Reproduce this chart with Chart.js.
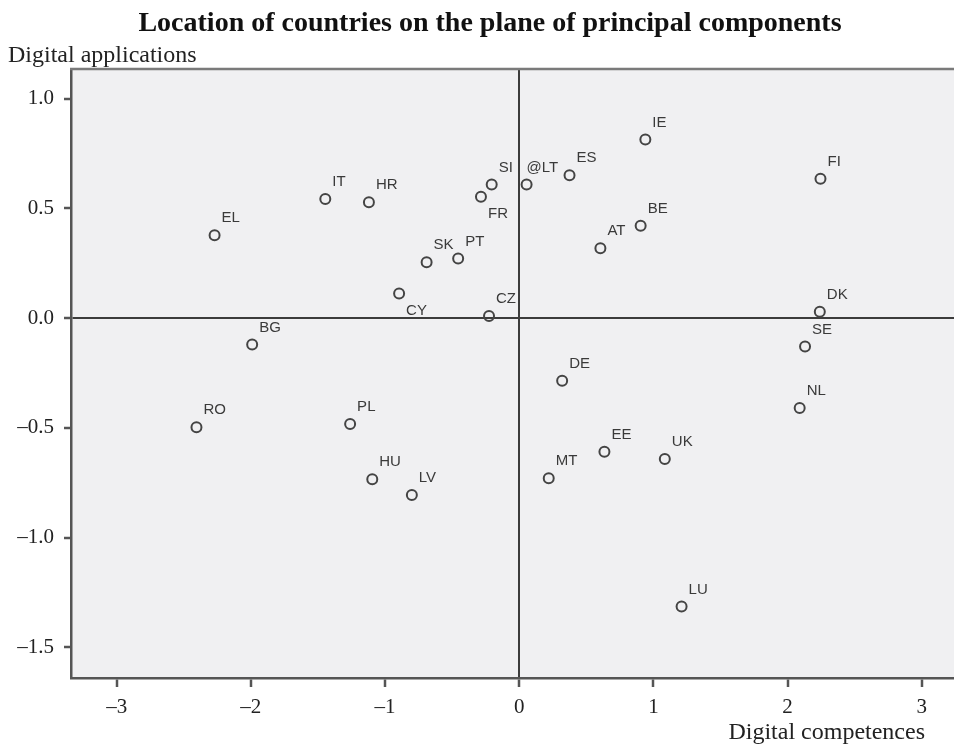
<!DOCTYPE html>
<html>
<head>
<meta charset="utf-8">
<script src="https://cdn.jsdelivr.net/npm/chart.js@4/dist/chart.umd.min.js"></script>
<style>
  html, body { margin: 0; padding: 0; background: #fff; }
  #wrap { width: 954px; height: 746px; }
</style>
</head>
<body>
<div id="wrap"><canvas id="pca" width="954" height="746"></canvas></div>
<script>
// countries and their scores on the two principal components
const countries = ['EL', 'IT', 'HR', 'SI', 'FR', 'SK', 'PT', 'CY', 'CZ', '@LT', 'ES', 'IE', 'FI', 'BE', 'AT', 'DK',
  'BG', 'RO', 'PL', 'HU', 'LV', 'SE', 'DE', 'NL', 'EE', 'UK', 'MT', 'LU'];
const digitalCompetences = [-2.27, -1.445, -1.12, -0.205, -0.285, -0.69, -0.455, -0.895, -0.225, 0.055, 0.375, 0.94, 2.245, 0.905, 0.605, 2.24,
  -1.99, -2.405, -1.26, -1.095, -0.80, 2.13, 0.32, 2.09, 0.635, 1.085, 0.22, 1.21];
const digitalApplications = [0.377, 0.543, 0.528, 0.609, 0.553, 0.254, 0.271, 0.112, 0.009, 0.609, 0.651, 0.814, 0.635, 0.421, 0.318, 0.029,
  -0.12, -0.497, -0.483, -0.734, -0.806, -0.129, -0.286, -0.41, -0.609, -0.642, -0.73, -1.314];

const xTitle = 'Digital competences';
const yTitle = 'Digital applications';
const chartTitle = 'Location of countries on the plane of principal components';

const points = countries.map((c, i) => ({ x: digitalCompetences[i], y: digitalApplications[i] }));

const dash = v => String(v).replace('-', '\u2013');

// plot background + top frame line
const plotFrame = {
  id: 'plotFrame',
  beforeDraw(chart) {
    const { ctx, chartArea: a } = chart;
    ctx.save();
    ctx.fillStyle = '#f0f0f2';
    ctx.fillRect(a.left, a.top, a.right - a.left, a.bottom - a.top);
    ctx.restore();
  },
  afterDraw(chart) {
    const { ctx, chartArea: a } = chart;
    ctx.save();
    ctx.strokeStyle = '#7a7a7a';
    ctx.lineWidth = 2.5;
    ctx.beginPath();
    ctx.moveTo(a.left - 1, a.top);
    ctx.lineTo(a.right, a.top);
    ctx.stroke();
    ctx.restore();
  }
};

// country code next to each marker
const pointLabels = {
  id: 'pointLabels',
  afterDatasetsDraw(chart) {
    const ctx = chart.ctx;
    const meta = chart.getDatasetMeta(0);
    const below = ['FR', 'CY'];
    ctx.save();
    ctx.font = '15px "Liberation Sans", Arial, sans-serif';
    ctx.fillStyle = '#3a3a3a';
    ctx.textAlign = 'left';
    ctx.textBaseline = 'middle';
    meta.data.forEach((el, i) => {
      const name = countries[i];
      const dx = name === '@LT' ? 0 : 7;
      const dy = below.includes(name) ? 17 : -17;
      ctx.fillText(name, el.x + dx, el.y + dy);
    });
    ctx.restore();
  }
};

// title and the two axis captions
const captions = {
  id: 'captions',
  afterDraw(chart) {
    const ctx = chart.ctx;
    ctx.save();
    ctx.fillStyle = '#111';
    ctx.textBaseline = 'alphabetic';
    ctx.font = 'bold 28px "Liberation Serif", serif';
    ctx.textAlign = 'center';
    ctx.fillText(chartTitle, 490, 31);
    ctx.fillStyle = '#222';
    ctx.font = '24px "Liberation Serif", serif';
    ctx.textAlign = 'left';
    ctx.fillText(yTitle, 8, 62);
    ctx.textAlign = 'right';
    ctx.fillText(xTitle, 925, 739);
    ctx.restore();
  }
};

const zeroLine = c => (c.tick && c.tick.value === 0) ? '#3c3c3c' : 'rgba(0,0,0,0)';

new Chart(document.getElementById('pca'), {
  type: 'scatter',
  data: {
    datasets: [{
      data: points,
      pointStyle: 'circle',
      pointRadius: 5,
      pointHoverRadius: 5,
      pointBorderWidth: 2,
      borderColor: '#444',
      backgroundColor: 'rgba(0,0,0,0)'
    }]
  },
  options: {
    responsive: false,
    animation: false,
    events: [],
    layout: { autoPadding: false, padding: { top: 69, left: 0, right: 0, bottom: 0 } },
    plugins: {
      legend: { display: false },
      title: { display: false },
      tooltip: { enabled: false }
    },
    scales: {
      x: {
        type: 'linear',
        min: -3.34,
        max: 3.24,
        ticks: {
          stepSize: 1,
          includeBounds: false,
          padding: 8,
          color: '#222',
          font: { family: '"Liberation Serif", serif', size: 21 },
          callback: v => dash(v)
        },
        grid: {
          color: zeroLine,
          lineWidth: 2,
          tickLength: 9,
          tickColor: '#555',
          tickWidth: 2.5
        },
        border: { color: '#555', width: 2.5 },
        afterFit: s => { s.height = 68; s.paddingLeft = 0; s.paddingRight = 0; }
      },
      y: {
        type: 'linear',
        min: -1.64,
        max: 1.135,
        ticks: {
          stepSize: 0.5,
          includeBounds: false,
          padding: 10,
          color: '#222',
          font: { family: '"Liberation Serif", serif', size: 21 },
          callback: v => dash(v.toFixed(1))
        },
        grid: {
          color: zeroLine,
          lineWidth: 2,
          tickLength: 7,
          tickColor: '#555',
          tickWidth: 2.5
        },
        border: { color: '#555', width: 2.5 },
        afterFit: s => { s.width = 71; s.paddingTop = 0; s.paddingBottom = 0; }
      }
    }
  },
  plugins: [plotFrame, pointLabels, captions]
});
</script>
</body>
</html>
